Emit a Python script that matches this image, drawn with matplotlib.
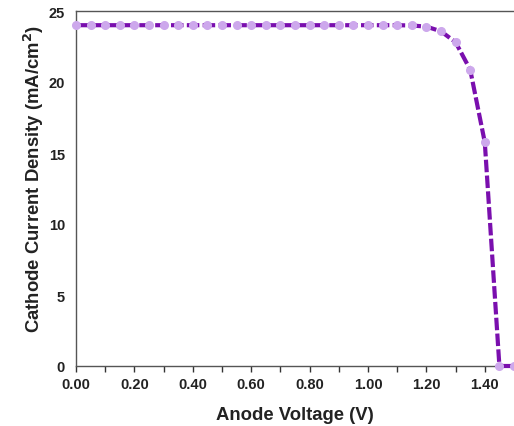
import matplotlib
matplotlib.use("Agg")
import matplotlib.pyplot as plt
import numpy as np

# J-V curve data
voltage = [0.00, 0.05, 0.10, 0.15, 0.20, 0.25, 0.30, 0.35, 0.40, 0.45,
           0.50, 0.55, 0.60, 0.65, 0.70, 0.75, 0.80, 0.85, 0.90, 0.95,
           1.00, 1.05, 1.10, 1.15, 1.20, 1.25, 1.30, 1.35, 1.40, 1.45, 1.50]
current = [24.0, 24.0, 24.0, 24.0, 24.0, 24.0, 24.0, 24.0, 24.0, 24.0,
           24.0, 24.0, 24.0, 24.0, 24.0, 24.0, 24.0, 24.0, 24.0, 24.0,
           24.0, 24.0, 24.0, 23.98, 23.9, 23.57, 22.8, 20.87, 15.75, 0.0, 0.0]
xticks = [0.0, 0.2, 0.4, 0.6, 0.8, 1.0, 1.2, 1.4]
yticks = [0, 5, 10, 15, 20, 25]

plt.rcParams['font.family'] = ['Liberation Sans', 'DejaVu Sans']
plt.rcParams['font.weight'] = 'bold'

fig = plt.figure(figsize=(5.14, 4.27), dpi=100)
ax = fig.add_axes([76 / 514, 60 / 427, 438 / 514, 355 / 427])

ax.plot(voltage, current, color='#7a0fae', linewidth=3.0, dashes=(3.0, 0.8),
        marker='o', markersize=5.5, markerfacecolor='#cda8ec',
        markeredgecolor='#cda8ec', clip_on=False, zorder=3)

ax.set_xlim(0, 1.5)
ax.set_ylim(0, 25)
ax.set_xticks(xticks)
ax.set_xticklabels([f"{t:.2f}" for t in xticks])
ax.set_xticks(np.arange(0.1, 1.5, 0.2), minor=True)
ax.set_yticks(yticks)

for s in ['left', 'bottom', 'top']:
    ax.spines[s].set_color('#555555')
    ax.spines[s].set_linewidth(1.0)
ax.spines['right'].set_visible(False)

ax.tick_params(axis='x', which='both', direction='out', length=4, width=1,
               color='#333333', labelsize=10.5, labelcolor='#222222', pad=4)
ax.tick_params(axis='y', length=0, labelsize=10.5, labelcolor='#222222', pad=8)

ax.set_xlabel('Anode Voltage (V)', fontsize=13.3, fontweight='bold', color='#222222', labelpad=11)
ax.set_ylabel('Cathode Current Density (mA/cm$^\\mathbf{2}$)', fontsize=13.3,
              fontweight='bold', color='#222222')
ax.yaxis.set_label_coords(-0.068, 0.53)

fig.savefig('out.png', dpi=100)
